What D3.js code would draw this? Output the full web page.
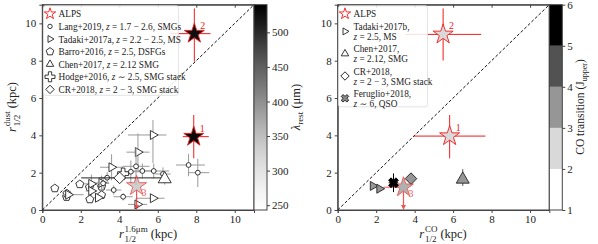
<!DOCTYPE html>
<html>
<head>
<meta charset="utf-8">
<script src="https://cdn.jsdelivr.net/npm/d3@7"></script>
<style>
  body { margin: 0; background: #fff; }
  text { font-family: "Liberation Serif", "DejaVu Serif", serif; fill: #222; }
</style>
</head>
<body>
<svg id="chart" width="598" height="244"></svg>
<script>
// rows: [x, y, xErrLow, xErrHigh, yErrLow, yErrHigh]
const alpsIds = ['1', '2', '3'];
const alpsDust = [
  [7.87, 3.93, 0.57, 0.78, 1.16, 1.16],
  [7.9, 9.45, 1.23, 0.84, 1.5, 1.35],
  [4.9, 1.29, 0, 0, 0, 0],
];
const alpsLambda = [530, 525, 350];
const alpsCO = [
  [5.82, 3.96, 1.87, 1.86, 1.19, 1.13],
  [5.48, 9.41, 1.97, 1.98, 1.4, 1.39],
  [3.42, 1.22, 1.05, 0, 0, 0],
];
const alpsJ = [2, 2, 3];
const alpsUpperLimit = [false, false, true];

const lang2019 = [
  [3.37, 1.73, 0.45, 0.45, 0.3, 0.3],
  [3.71, 1.07, 0.4, 0.4, 0.25, 0.25],
  [4.2, 0.71, 0.5, 0.5, 0.2, 0.2],
  [4.6, 2.05, 0.6, 0.6, 0.6, 0.6],
  [4.87, 2.34, 0.7, 0.7, 1.0, 1.0],
  [5.2, 2.09, 0.5, 0.5, 0.4, 0.4],
  [5.79, 2.09, 0.8, 0.8, 0.4, 0.4],
  [6.27, 1.93, 0.4, 0.4, 0.35, 0.35],
  [7.6, 2.41, 0.65, 0.85, 0.6, 0.6],
  [8.08, 2.0, 0.5, 0.6, 0.77, 0.75],
  [3.16, 1.43, 0.3, 0.3, 0.3, 0.3],
];
const tadaki2017a = [
  [1.35, 0.82, 0.3, 0.8, 0.15, 0.15],
  [2.55, 1.4, 0.4, 0.4, 0.5, 0.5],
  [2.55, 1.02, 0.3, 0.3, 0.3, 0.3],
  [3.08, 1.45, 0.4, 0.4, 0.4, 0.4],
  [2.9, 0.66, 0.3, 0.3, 0.2, 0.2],
  [3.6, 2.29, 0.6, 0.6, 0.7, 0.7],
  [4.97, 3.1, 0.6, 0.6, 1.0, 1.0],
  [5.75, 4.02, 1.3, 0.7, 1.5, 0.8],
  [5.75, 0.63, 0.9, 0.6, 0.15, 0.15],
  [4.95, 0.3, 0.5, 0.5, 0.15, 0.15],
];
const barro2016 = [
  [0.65, 1.16, 0, 0, 0, 0],
  [1.26, 0.7, 0.2, 0.2, 0.1, 0.1],
  [1.95, 1.38, 0, 0, 0, 0],
  [2.47, 0.57, 0.2, 0.2, 0.15, 0.15],
  [3.08, 0.8, 0.2, 0.2, 0.2, 0.2],
  [3.08, 1.25, 0.2, 0.2, 0.2, 0.2],
  [2.45, 1.22, 0.2, 0.2, 0.3, 0.3],
  [1.28, 0.88, 0, 0, 0, 0],
];
const chen2017Dust = [[6.36, 1.66, 0, 0, 0.3, 0.3]];
const hodge2016 = [[4.2, 1.95, 0.3, 0.3, 0.3, 0.3]];
const cr2018Dust = [[4.02, 1.72, 2.0, 2.15, 0.1, 0.1]];

const tadaki2017b = [
  [1.83, 1.29, 0, 0, 0, 0],
  [2.17, 1.14, 0, 0, 0, 0],
];
const chen2017CO = [[6.5, 1.64, 0, 0, 0.35, 0.55]];
const cr2018CO = [[3.81, 1.68, 0, 0, 0, 0]];
const feruglio2018 = [[2.9, 1.46, 0.25, 0.25, 0.5, 0.5]];
const coJ = { tadaki: 3, chen: 3, cr: 3, feruglio: 6 };

const axisTicks = [0, 2, 4, 6, 8, 10];
const lambdaTicks = [250, 300, 350, 400, 450, 500];
const lambdaRange = [243, 540];
const jTicks = [1, 2, 3, 4, 5, 6];

const legendDust = [
  ['star', 'ALPS', ''],
  ['circle', 'Lang+2019, ', ' = 1.7 − 2.6, SMGs'],
  ['triRight', 'Tadaki+2017a, ', ' = 2.2 − 2.5, MS'],
  ['pentagon', 'Barro+2016, ', ' = 2.5, DSFGs'],
  ['triUp', 'Chen+2017, ', ' = 2.12 SMG'],
  ['plus', 'Hodge+2016, ', ' ∼ 2.5, SMG stack'],
  ['diamond', 'CR+2018, ', ' = 2 − 3, SMG stack'],
];
const legendCO = [
  ['star', 'ALPS', null],
  ['triRight', 'Tadaki+2017b,', ' = 2.5, MS'],
  ['triUp', 'Chen+2017,', ' = 2.12, SMG'],
  ['diamond', 'CR+2018,', ' = 2 − 3, SMG stack'],
  ['xmark', 'Feruglio+2018,', ' ∼ 6, QSO'],
];

const svg = d3.select('#chart');
const red = '#ee1c1c';
const errGray = '#9a9a9a';

const lamColor = d3.scaleSequential(d3.interpolateGreys).domain(lambdaRange);
const jColor = d3.scaleThreshold()
  .domain([2, 3, 4, 5])
  .range(['#ffffff', '#d9d9d9', '#969696', '#525252', '#000000']);

// R is the outer radius in px; converted to the area d3.symbol expects
function markerPath(shape, R) {
  if (shape === 'pentagon') {
    const pts = d3.range(5).map((i) => {
      const a = -Math.PI / 2 + (i * 2 * Math.PI) / 5;
      return [R * Math.cos(a), R * Math.sin(a)];
    });
    return 'M' + pts.join('L') + 'Z';
  }
  const spec = {
    star: [d3.symbolStar, 1 / 0.8908],
    circle: [d3.symbolCircle, Math.PI],
    triRight: [d3.symbolTriangle, 1.299],
    triUp: [d3.symbolTriangle, 1.299],
    plus: [d3.symbolCross, 2.222],
    xmark: [d3.symbolCross, 2.222],
    diamond: [d3.symbolSquare, 2],
  }[shape];
  return d3.symbol(spec[0], spec[1] * R * R)();
}
function markerRot(shape) {
  if (shape === 'triRight') return 90;
  if (shape === 'diamond' || shape === 'xmark') return 45;
  return 0;
}
const markerSize = {
  star: 10.5, circle: 2.4, triRight: 5.2, triUp: 7.5, plus: 5.5,
  diamond: 5.8, xmark: 5.2, pentagon: 4.2,
};
const legendSize = {
  star: 6, circle: 2.2, triRight: 4, triUp: 4.3, plus: 5,
  diamond: 4.2, xmark: 4, pentagon: 4,
};

function drawMarker(g, shape, cx, cy, fill, stroke, R) {
  return g.append('path')
    .attr('d', markerPath(shape, R || markerSize[shape]))
    .attr('transform', `translate(${cx},${cy}) rotate(${markerRot(shape)})`)
    .attr('fill', fill)
    .attr('stroke', stroke)
    .attr('stroke-width', 0.9);
}

function errorBars(g, x, y, rows, color) {
  rows.forEach((d) => {
    if (d[2] || d[3]) {
      g.append('line')
        .attr('x1', x(d[0] - d[2])).attr('x2', x(d[0] + d[3]))
        .attr('y1', y(d[1])).attr('y2', y(d[1]))
        .attr('stroke', color).attr('stroke-width', 1);
    }
    if (d[4] || d[5]) {
      g.append('line')
        .attr('x1', x(d[0])).attr('x2', x(d[0]))
        .attr('y1', y(d[1] - d[4])).attr('y2', y(d[1] + d[5]))
        .attr('stroke', color).attr('stroke-width', 1);
    }
  });
}

function series(g, x, y, rows, shape, fill, errColor) {
  errorBars(g, x, y, rows, errColor);
  rows.forEach((d) => drawMarker(g, shape, x(d[0]), y(d[1]), fill, '#222'));
}

function styleTicks(sel) {
  sel.selectAll('.tick line').attr('stroke', '#444');
  sel.selectAll('.tick text').attr('font-size', 11)
    .style('font-family', '"Liberation Serif", serif').attr('fill', '#222');
}

function setupPanel(left, right) {
  const x = d3.scaleLinear().domain([0, 11]).range([left, right]);
  const y = d3.scaleLinear().domain([0, 11]).range([210, 4.7]);
  const g = svg.append('g');
  const ax = g.append('g').attr('class', 'axes');

  ax.append('g').attr('transform', 'translate(0,210)')
    .call(d3.axisBottom(x).tickValues(axisTicks).tickSize(3).tickPadding(2));
  ax.append('g').attr('transform', `translate(${left},0)`)
    .call(d3.axisLeft(y).tickValues(axisTicks).tickSize(3).tickPadding(3));
  ax.append('g').attr('transform', 'translate(0,4.7)')
    .call(d3.axisTop(x).tickValues(axisTicks).tickSize(-3).tickFormat(''));
  ax.selectAll('.domain').attr('stroke', '#444');
  styleTicks(ax);

  g.append('rect')
    .attr('x', left).attr('y', 4.7)
    .attr('width', right - left).attr('height', 205.3)
    .attr('fill', 'none').attr('stroke', '#444');

  // one-to-one line
  g.append('line')
    .attr('x1', x(0)).attr('y1', y(0)).attr('x2', x(11)).attr('y2', y(11))
    .attr('stroke', '#111').attr('stroke-width', 1).attr('stroke-dasharray', '3,2');

  return { x, y, g };
}

function drawAlps(g, x, y, rows, fills) {
  rows.forEach((d, i) => {
    const sub = g.append('g').attr('opacity', alpsUpperLimit[i] ? 0.75 : 1);
    errorBars(sub, x, y, [d], red);
    if (alpsUpperLimit[i]) {
      const y0 = y(0.05);
      sub.append('line')
        .attr('x1', x(d[0])).attr('x2', x(d[0]))
        .attr('y1', y(d[1])).attr('y2', y0 - 3)
        .attr('stroke', red).attr('stroke-width', 1.2);
      sub.append('path')
        .attr('d', `M${x(d[0]) - 2.5},${y0 - 4}L${x(d[0]) + 2.5},${y0 - 4}L${x(d[0])},${y0 + 1}Z`)
        .attr('fill', red);
    }
    drawMarker(sub, 'star', x(d[0]), y(d[1]), fills[i], red);
    const up = !alpsUpperLimit[i];
    sub.append('text')
      .attr('x', x(d[0]) + (up ? 6 : 5))
      .attr('y', y(d[1]) + (up ? -5 : 10))
      .attr('font-size', 10)
      .style('fill', red)
      .text(alpsIds[i]);
  });
}

function rLabel(parent, cx, cy, sup, rotate) {
  const outer = parent.append('g').attr('transform', `translate(${cx},${cy}) rotate(${rotate})`);
  const g = outer.append('g');
  const r = g.append('text').attr('font-size', 12.5).attr('font-style', 'italic').text('r');
  const rw = r.node().getComputedTextLength() + 0.8;
  const s1 = g.append('text').attr('x', rw).attr('y', -6).attr('font-size', 9).text(sup);
  const s2 = g.append('text').attr('x', rw).attr('y', 4).attr('font-size', 9).text('1/2');
  const w = rw + Math.max(s1.node().getComputedTextLength(), s2.node().getComputedTextLength()) + 3;
  const k = g.append('text').attr('x', w).attr('font-size', 12.5).text('(kpc)');
  const total = w + k.node().getComputedTextLength();
  g.attr('transform', `translate(${-total / 2},4)`);
}

function legend(parent, x0, y0, w, h, items, twoLine) {
  const g = parent.append('g');
  g.append('rect')
    .attr('x', x0).attr('y', y0).attr('width', w).attr('height', h)
    .attr('rx', 2).attr('fill', '#fff').attr('fill-opacity', 0.85)
    .attr('stroke', '#ddd').attr('stroke-width', 0.8);
  let yy = y0 + 8;
  items.forEach((it) => {
    const [shape, name, rest] = it;
    const lines = twoLine && rest !== null ? 2 : 1;
    const my = yy + (lines === 2 ? 5 : 0);
    const fill = shape === 'xmark' ? '#888' : '#fff';
    drawMarker(g, shape, x0 + 6.5, my, fill, shape === 'star' ? red : '#222', legendSize[shape]);
    const t = g.append('text').attr('x', x0 + 15).attr('y', yy + 3.5).attr('font-size', 9.3);
    if (!rest) {
      t.text(name);
    } else if (lines === 1) {
      t.append('tspan').text(name);
      t.append('tspan').attr('font-style', 'italic').text('z');
      t.append('tspan').text(rest);
    } else {
      t.text(name);
      const t2 = g.append('text').attr('x', x0 + 15).attr('y', yy + 13.5).attr('font-size', 9.3);
      t2.append('tspan').attr('font-style', 'italic').text('z');
      t2.append('tspan').text(rest);
    }
    yy += lines === 2 ? 22.3 : 12.6;
  });
}

// ---------- left panel: dust size vs stellar size ----------
const P1 = setupPanel(42.3, 254);
{
  const { x, y, g } = P1;
  const pts = g.append('g');
  series(pts, x, y, barro2016, 'pentagon', '#fff', errGray);
  series(pts, x, y, tadaki2017a, 'triRight', '#fff', errGray);
  series(pts, x, y, lang2019, 'circle', '#fff', errGray);
  series(pts, x, y, hodge2016, 'plus', '#fff', errGray);
  series(pts, x, y, cr2018Dust, 'diamond', '#fff', '#222');
  series(pts, x, y, chen2017Dust, 'triUp', '#fff', errGray);
  drawAlps(pts, x, y, alpsDust, alpsLambda.map((v) => lamColor(v)));

  legend(g, 43.5, 5.8, 135, 89.5, legendDust, false);

  rLabel(svg, 148, 234, '1.6μm', 0);
  rLabel(svg, 12, 107, 'dust', -90);

  // colorbar
  const cy = d3.scaleLinear().domain(lambdaRange).range([210, 4.7]);
  const defs = svg.append('defs');
  const grad = defs.append('linearGradient').attr('id', 'lamGrad')
    .attr('x1', 0).attr('x2', 0).attr('y1', 1).attr('y2', 0);
  d3.range(0, 1.001, 0.1).forEach((t) => {
    grad.append('stop').attr('offset', t)
      .attr('stop-color', lamColor(lambdaRange[0] + t * (lambdaRange[1] - lambdaRange[0])));
  });
  svg.append('rect').attr('x', 254).attr('y', 4.7).attr('width', 13).attr('height', 205.3)
    .attr('fill', 'url(#lamGrad)').attr('stroke', '#444');
  const cax = svg.append('g').attr('transform', 'translate(267,0)')
    .call(d3.axisRight(cy).tickValues(lambdaTicks).tickFormat(d3.format('d')).tickSize(3).tickPadding(2));
  cax.select('.domain').remove();
  styleTicks(cax);

  const lt = svg.append('text')
    .attr('transform', 'translate(300,107) rotate(-90)')
    .attr('text-anchor', 'middle').attr('font-size', 12.5);
  lt.append('tspan').attr('font-style', 'italic').text('λ');
  lt.append('tspan').attr('font-size', 9).attr('dy', 3).text('rest');
  lt.append('tspan').attr('dy', -3).text(' (μm)');
}

// ---------- right panel: dust size vs CO size ----------
const P2 = setupPanel(337.7, 549.3);
{
  const { x, y, g } = P2;
  const pts = g.append('g');
  series(pts, x, y, tadaki2017b, 'triRight', jColor(coJ.tadaki), errGray);
  series(pts, x, y, cr2018CO, 'diamond', jColor(coJ.cr), errGray);
  series(pts, x, y, chen2017CO, 'triUp', jColor(coJ.chen), '#555');
  drawAlps(pts, x, y, alpsCO, alpsJ.map((v) => jColor(v)));
  errorBars(pts, x, y, feruglio2018, '#000');
  feruglio2018.forEach((d) => drawMarker(pts, 'xmark', x(d[0]), y(d[1]), jColor(coJ.feruglio), '#000'));

  legend(g, 338.5, 5.8, 89, 101, legendCO, true);

  rLabel(svg, 443, 234, 'CO', 0);

  // discrete colorbar
  const cy = d3.scaleLinear().domain([1, 6]).range([210, 4.7]);
  d3.range(1, 6).forEach((j) => {
    svg.append('rect').attr('x', 549.3).attr('y', cy(j + 1))
      .attr('width', 13).attr('height', cy(j) - cy(j + 1))
      .attr('fill', jColor(j));
  });
  svg.append('rect').attr('x', 549.3).attr('y', 4.7).attr('width', 13).attr('height', 205.3)
    .attr('fill', 'none').attr('stroke', '#444');
  const cax = svg.append('g').attr('transform', 'translate(562.3,0)')
    .call(d3.axisRight(cy).tickValues(jTicks).tickFormat(d3.format('d')).tickSize(3).tickPadding(2));
  cax.select('.domain').remove();
  styleTicks(cax);

  const lt = svg.append('text')
    .attr('transform', 'translate(584,107) rotate(-90)')
    .attr('text-anchor', 'middle').attr('font-size', 11.5);
  lt.append('tspan').text('CO transition (J');
  lt.append('tspan').attr('font-size', 8).attr('dy', 3).text('upper');
  lt.append('tspan').attr('dy', -3).text(')');
}
</script>
</body>
</html>
